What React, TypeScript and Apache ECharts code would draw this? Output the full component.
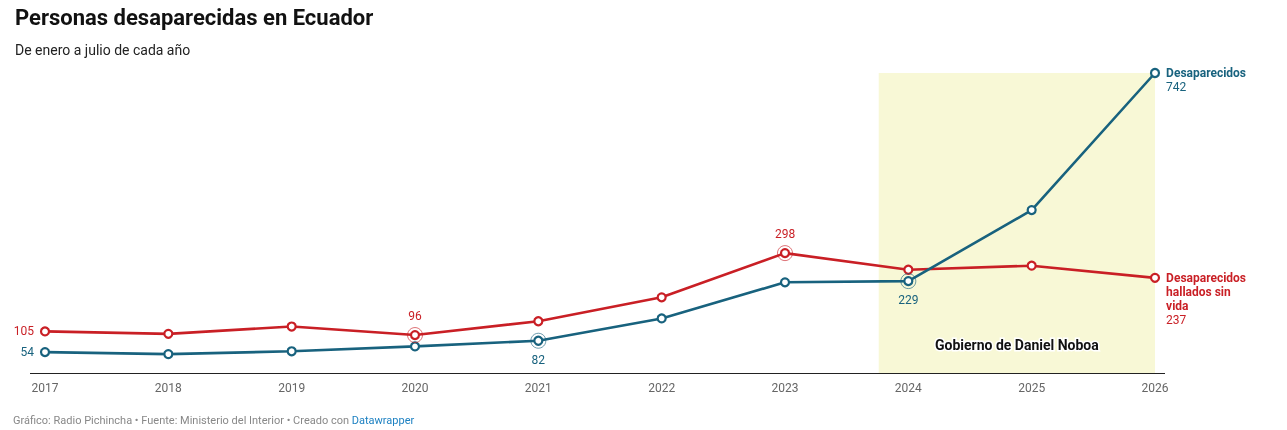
import React, { useEffect, useRef } from "react";
import * as echarts from "echarts";

const years = [2017, 2018, 2019, 2020, 2021, 2022, 2023, 2024, 2025, 2026];
const desaparecidos = [54, 49, 56, 68, 82, 137, 226, 229, 404, 742];
const halladosSinVida = [105, 99, 117, 96, 130, 189, 298, 257, 267, 237];
const labeledBlue = [2017, 2021, 2024];
const labeledRed = [2017, 2020, 2023];
const ringBlue = [2021, 2024];
const ringRed = [2020, 2023];
const nobaoStart = 2023.76;
const nobaoEnd = 2026;

const BLUE = "#18627e";
const RED = "#c91f25";
const FONT = "Roboto";

export default function App() {
  const ref = useRef<HTMLDivElement>(null);
  useEffect(() => {
    document.body.style.margin = "0";
    const chart = echarts.init(ref.current!, null, { renderer: "svg" });

    const labelFor = (yr: number, isBlue: boolean) => {
      if (yr === 2017) return { show: true, position: "left", distance: 6 };
      if (isBlue) return { show: true, position: "bottom", distance: 8 };
      return { show: true, position: "top", distance: 8 };
    };

    const mkData = (vals: number[], labeled: number[], isBlue: boolean, endText: string) =>
      years.map((yr, i) => {
        const item: any = { value: [yr, vals[i]] };
        if (labeled.includes(yr)) item.label = labelFor(yr, isBlue);
        if (i === years.length - 1) {
          item.label = {
            show: true,
            position: "right",
            distance: 6,
            verticalAlign: "top",
            offset: [0, -7],
            lineHeight: 14,
            formatter: endText,
            rich: {
              b: { fontWeight: "bold", fontSize: 12, lineHeight: 14, color: isBlue ? BLUE : RED, fontFamily: FONT },
            },
          };
        }
        return item;
      });

    const ringData = (vals: number[], ringYears: number[]) =>
      ringYears.map((yr) => [yr, vals[years.indexOf(yr)]]);

    const option: any = {
      animation: false,
      textStyle: { fontFamily: FONT },
      title: [
        {
          text: "Personas desaparecidas en Ecuador",
          left: 15,
          top: 6,
          padding: 0,
          textStyle: { fontFamily: FONT, fontSize: 22, fontWeight: "bold", color: "#111" },
        },
        {
          text: "De enero a julio de cada año",
          left: 15,
          top: 43,
          padding: 0,
          textStyle: { fontFamily: FONT, fontSize: 14, fontWeight: "normal", color: "#222" },
        },
      ],
      grid: { left: 45, right: 1287 - 1155, top: 73, bottom: 430 - 374, containLabel: false },
      xAxis: {
        type: "value",
        min: 2017,
        max: 2026,
        interval: 1,
        axisLine: { show: false },
        axisTick: { show: false },
        splitLine: { show: false },
        axisLabel: { color: "#666", fontSize: 12, fontFamily: FONT, margin: 8, formatter: (v: number) => String(v) },
      },
      yAxis: {
        type: "value",
        min: 0,
        max: 742,
        show: false,
        splitLine: { show: false },
      },
      series: [
        {
          type: "line",
          name: "Desaparecidos hallados sin vida",
          data: mkData(halladosSinVida, labeledRed, false, "{b|Desaparecidos}\n{b|hallados sin}\n{b|vida}\n237"),
          z: 3,
          lineStyle: { color: RED, width: 2.6 },
          itemStyle: { color: "#fff", borderColor: RED, borderWidth: 2.2 },
          symbol: "circle",
          symbolSize: 8,
          label: { show: false, color: RED, fontSize: 12, fontFamily: FONT },
          markArea: {
            silent: true,
            itemStyle: { color: "#f8f8d6" },
            label: {
              show: true,
              position: "insideBottom",
              distance: 22,
              color: "#111",
              fontWeight: "bold",
              fontSize: 14,
              fontFamily: FONT,
              textBorderColor: "#fff",
              textBorderWidth: 3,
            },
            data: [[{ name: "Gobierno de Daniel Noboa", xAxis: nobaoStart, yAxis: 0 }, { xAxis: nobaoEnd, yAxis: 742 }]],
          },
        },
        {
          type: "line",
          name: "Desaparecidos",
          data: mkData(desaparecidos, labeledBlue, true, "{b|Desaparecidos}\n742"),
          z: 4,
          lineStyle: { color: BLUE, width: 2.6 },
          itemStyle: { color: "#fff", borderColor: BLUE, borderWidth: 2.2 },
          symbol: "circle",
          symbolSize: 8,
          label: { show: false, color: BLUE, fontSize: 12, fontFamily: FONT },
        },
        {
          type: "scatter",
          data: ringData(halladosSinVida, ringRed),
          symbol: "circle",
          symbolSize: 15,
          z: 5,
          silent: true,
          itemStyle: { color: "rgba(0,0,0,0)", borderColor: RED, borderWidth: 0.9, opacity: 0.7 },
        },
        {
          type: "scatter",
          data: ringData(desaparecidos, ringBlue),
          symbol: "circle",
          symbolSize: 15,
          z: 5,
          silent: true,
          itemStyle: { color: "rgba(0,0,0,0)", borderColor: BLUE, borderWidth: 0.9, opacity: 0.7 },
        },
      ],
    };
    chart.setOption(option);

    const p0 = chart.convertToPixel({ gridIndex: 0 }, [2017, 0]) as number[];
    const p1 = chart.convertToPixel({ gridIndex: 0 }, [2026, 0]) as number[];
    chart.setOption({
      graphic: [
        {
          type: "line",
          shape: { x1: p0[0] - 15, y1: p0[1] - 0.5, x2: p1[0] + 10, y2: p1[1] - 0.5 },
          style: { stroke: "#222", lineWidth: 1 },
          z: 1,
        },
        {
          type: "text",
          left: 13,
          top: 415,
          style: {
            text: "{g|Gráfico: Radio Pichincha • Fuente: Ministerio del Interior • Creado con }{l|Datawrapper}",
            rich: {
              g: { fill: "#888", fontSize: 11, fontFamily: FONT },
              l: { fill: "#1d81c2", fontSize: 11, fontFamily: FONT },
            },
          },
        },
      ],
    });

    return () => chart.dispose();
  }, []);
  return <div ref={ref} style={{ position: "fixed", left: 0, top: 0, width: 1287, height: 430 }} />;
}
